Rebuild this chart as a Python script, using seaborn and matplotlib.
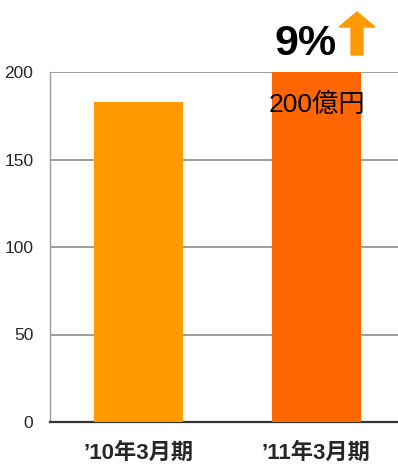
import matplotlib
matplotlib.use("Agg")
import matplotlib.pyplot as plt
from matplotlib.patches import FancyArrow
import seaborn as sns

# Sales by fiscal period (100 million yen)
periods = ["’10年3月期", "’11年3月期"]
sales = [183, 200]
bar_colors = ["#FF9900", "#FF6600"]
yticks = [0, 50, 100, 150, 200]
growth_label = "9%"
value_label = "200億円"

sns.set_theme(style="white")
plt.rcParams["font.family"] = ["Liberation Sans", "Noto Sans CJK JP", "DejaVu Sans"]

W, H = 398, 467
fig = plt.figure(figsize=(W / 100, H / 100), dpi=100)
ax = fig.add_axes([50 / W, 45 / H, 348 / W, 350 / H])

sns.barplot(x=periods, y=sales, hue=periods, palette=bar_colors,
            width=0.5, legend=False, saturation=1, linewidth=0,
            ax=ax, zorder=3)

ax.set_ylim(0, 200)
ax.set_xlim(-0.5, 1.46)
ax.set_yticks(yticks)
ax.set_yticklabels([str(t) for t in yticks], fontsize=12.5)
ax.yaxis.grid(True, color="#8c8c8c", linewidth=1.2, zorder=0)
ax.set_axisbelow(True)
ax.set_xlabel("")
ax.set_ylabel("")

for side in ["top", "right"]:
    ax.spines[side].set_visible(False)
ax.spines["left"].set_color("#9a9a9a")
ax.spines["left"].set_linewidth(1.0)
ax.spines["bottom"].set_color("#333333")
ax.spines["bottom"].set_linewidth(1.6)

ax.tick_params(axis="y", length=0, pad=12)
ax.tick_params(axis="x", length=0, pad=15)
ax.set_xticks([0.5], minor=True)
ax.tick_params(axis="x", which="minor", direction="in", length=5, color="#333333")
for lbl in ax.get_xticklabels():
    lbl.set_fontfamily(["Liberation Sans", "Noto Sans CJK JP"])
    lbl.set_fontsize(16)
    lbl.set_fontweight("bold")

# Value label on the latest bar
ax.text(0.73, sales[1] - 19, value_label, fontsize=19, color="black",
        ha="left", va="center",
        fontfamily=["Liberation Sans", "Noto Sans CJK JP"])

# Growth annotation above the chart
fig.text(274 / W, 1 - 55 / H, growth_label, fontsize=31, fontweight="bold",
         color="black", ha="left", va="baseline")
arrow = FancyArrow(357 / W, 1 - 55 / H, 0, 43 / H, width=12 / W,
                   head_width=36 / W, head_length=15 / H,
                   length_includes_head=True, color="#FF9900",
                   transform=fig.transFigure)
fig.patches.append(arrow)

fig.savefig("out.png", dpi=100)
